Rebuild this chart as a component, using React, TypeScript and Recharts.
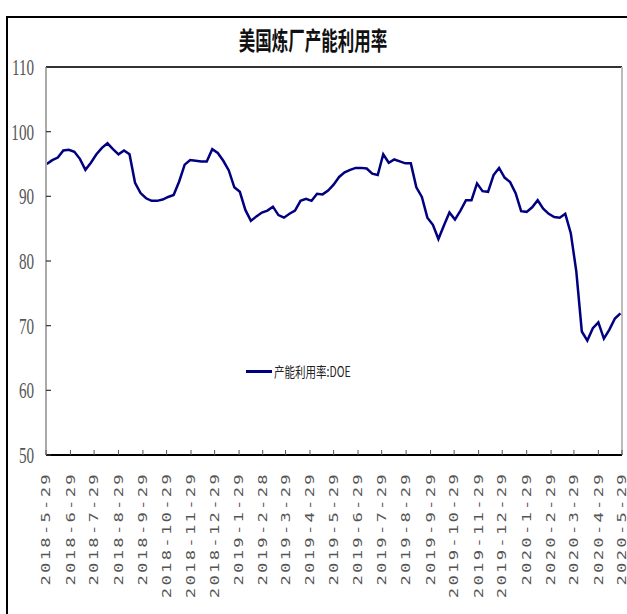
import React from "react";
import { LineChart, Line, XAxis, YAxis, ReferenceLine } from "recharts";

// 美国炼厂产能利用率 (%), weekly, from DOE
const seriesName = "产能利用率:DOE";
const firstWeek = "2018-05-30";
const utilization = [
  95.0, 95.6, 96.0, 97.1, 97.2, 96.9, 95.8, 94.1, 95.2, 96.5,
  97.5, 98.2, 97.3, 96.5, 97.1, 96.5, 92.1, 90.5, 89.7, 89.3,
  89.3, 89.5, 89.9, 90.2, 92.3, 94.9, 95.6, 95.5, 95.4, 95.4,
  97.3, 96.7, 95.5, 94.0, 91.4, 90.7, 87.9, 86.2, 86.9, 87.5,
  87.8, 88.4, 87.1, 86.7, 87.3, 87.8, 89.3, 89.6, 89.3, 90.4,
  90.3, 90.9, 91.8, 93.0, 93.7, 94.1, 94.4, 94.4, 94.3, 93.5,
  93.3, 96.5, 95.2, 95.7, 95.4, 95.1, 95.1, 91.4, 89.9, 86.7,
  85.6, 83.4, 85.5, 87.5, 86.4, 87.8, 89.4, 89.4, 92.0, 90.8,
  90.7, 93.3, 94.4, 92.9, 92.2, 90.5, 87.7, 87.6, 88.3, 89.4,
  88.1, 87.3, 86.8, 86.7, 87.3, 84.3, 78.4, 69.1, 67.7, 69.6,
  70.5, 68.0, 69.4, 71.1, 71.9,
];

const xTickLabels = [
  "2018-5-29", "2018-6-29", "2018-7-29", "2018-8-29", "2018-9-29",
  "2018-10-29", "2018-11-29", "2018-12-29", "2019-1-29", "2019-2-28",
  "2019-3-29", "2019-4-29", "2019-5-29", "2019-6-29", "2019-7-29",
  "2019-8-29", "2019-9-29", "2019-10-29", "2019-11-29", "2019-12-29",
  "2020-1-29", "2020-2-29", "2020-3-29", "2020-4-29", "2020-5-29",
];
const yTicks = [50, 60, 70, 80, 90, 100, 110];

const DAY = 86400000;
const toTime = (s: string) => {
  const [y, m, d] = s.split("-").map(Number);
  return Date.UTC(y, m - 1, d);
};
const labelByTime = new Map(xTickLabels.map((l) => [toTime(l), l]));
const xTicks = xTickLabels.map(toTime);
const start = toTime(firstWeek);
const data = utilization.map((v, i) => ({ t: start + i * 7 * DAY, v }));

const W = 627;
const H = 614;
const PLOT_LEFT = 46;
const PLOT_TOP = 67;
const PLOT_BOTTOM = 455;

const YTick = (props: any) => {
  const { y, payload } = props;
  return (
    <g>
      <line x1={PLOT_LEFT} x2={PLOT_LEFT + 5} y1={y} y2={y} stroke="#333" strokeWidth={1.2} />
      <text
        transform={`translate(34, ${y + 8}) scale(0.63, 1)`}
        textAnchor="end"
        fontFamily="'Liberation Serif', serif"
        fontSize={24}
        fill="#555"
      >
        {payload.value}
      </text>
    </g>
  );
};

const XTick = (props: any) => {
  const { x, payload } = props;
  return (
    <g>
      <line x1={x} x2={x} y1={PLOT_BOTTOM} y2={PLOT_BOTTOM - 5} stroke="#555" strokeWidth={1} />
      <text
        transform={`translate(${x}, 472) rotate(-90) scale(1.5, 1)`}
        textAnchor="end"
        dy="0.36em"
        fontFamily="'DejaVu Sans Mono', monospace"
        fontSize={11.5}
        letterSpacing={1.5}
        fill="#555"
      >
        {labelByTime.get(payload.value)}
      </text>
    </g>
  );
};

export default function App() {
  return (
    <div
      style={{
        position: "fixed",
        left: 0,
        top: 0,
        width: W,
        height: H,
        overflow: "hidden",
        background: "#fff",
      }}
    >
      <div
        style={{
          position: "absolute",
          left: 6,
          top: 16,
          width: 680,
          height: 680,
          border: "2px solid #000",
        }}
      />
      <div
        style={{
          position: "absolute",
          left: 313,
          top: 27,
          transform: "translateX(-50%) scaleX(0.66)",
          fontFamily: "'Noto Sans CJK SC', sans-serif",
          fontWeight: 700,
          fontSize: 25,
          lineHeight: "25px",
          whiteSpace: "nowrap",
          color: "#111",
        }}
      >
        美国炼厂产能利用率
      </div>
      <div style={{ position: "absolute", left: 0, top: 0 }}>
        <LineChart
          width={W}
          height={H}
          data={data}
          margin={{ top: PLOT_TOP, right: W - 622, bottom: 0, left: 0 }}
        >
          <XAxis
            dataKey="t"
            type="number"
            domain={[xTicks[0], xTicks[xTicks.length - 1]]}
            ticks={xTicks}
            interval={0}
            height={H - PLOT_BOTTOM}
            tickLine={false}
            tick={<XTick />}
            axisLine={{ stroke: "#000", strokeWidth: 2 }}
            allowDataOverflow
          />
          <YAxis
            domain={[50, 110]}
            ticks={yTicks}
            interval={0}
            width={PLOT_LEFT}
            tickLine={false}
            tick={<YTick />}
            axisLine={{ stroke: "#aaa", strokeWidth: 2 }}
            allowDataOverflow
          />
          <ReferenceLine y={110} stroke="#333" strokeWidth={2} />
          <ReferenceLine x={xTicks[xTicks.length - 1]} stroke="#bbb" strokeWidth={2} />
          <Line
            type="linear"
            dataKey="v"
            name={seriesName}
            stroke="#000080"
            strokeWidth={2.5}
            dot={false}
            isAnimationActive={false}
          />
        </LineChart>
      </div>
      <div
        style={{
          position: "absolute",
          left: 246,
          top: 362,
          display: "flex",
          alignItems: "center",
          whiteSpace: "nowrap",
        }}
      >
        <span style={{ display: "inline-block", width: 26, height: 3, background: "#000080" }} />
        <span
          style={{
            display: "inline-block",
            marginLeft: 2,
            fontFamily: "'Noto Sans CJK SC', sans-serif",
            fontSize: 14,
            lineHeight: "18px",
            color: "#222",
            transform: "scaleX(0.75)",
            transformOrigin: "left center",
          }}
        >
          {seriesName}
        </span>
      </div>
    </div>
  );
}
